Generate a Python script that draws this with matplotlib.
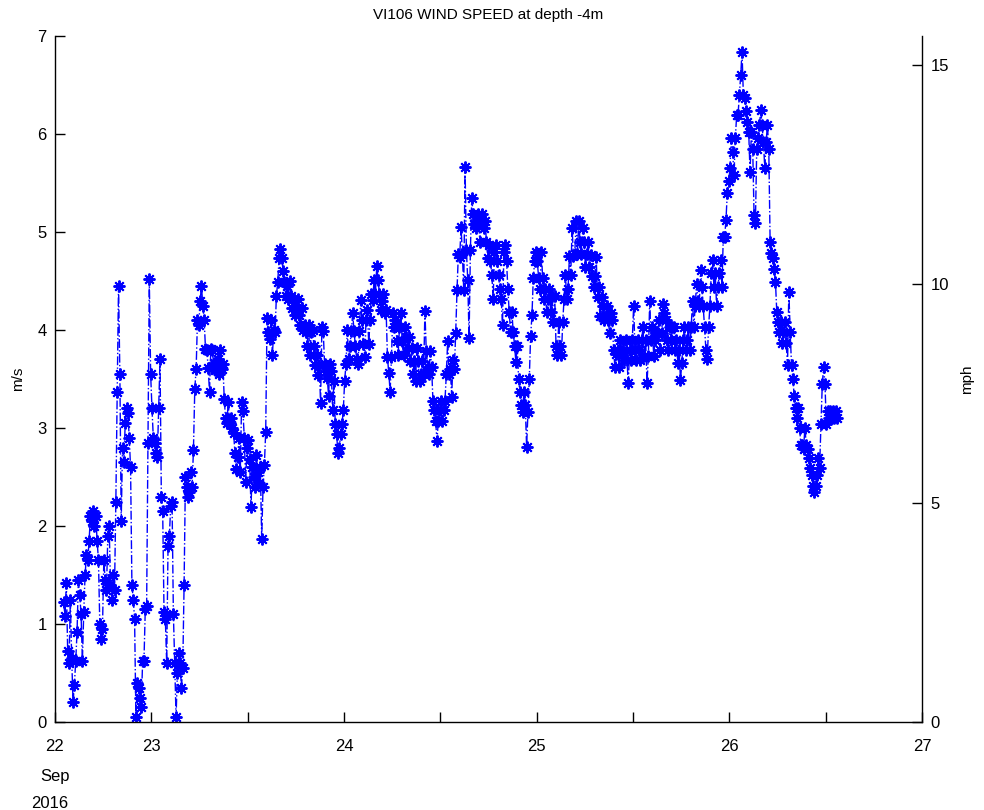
import numpy as np
import matplotlib
matplotlib.use("Agg")
import matplotlib.pyplot as plt

plt.rcParams['font.family'] = ['Liberation Sans', 'DejaVu Sans']

title = "VI106 WIND SPEED at depth -4m"

# sampling: start day (Sep 2016) and 10-minute step
t_start = 22.545
step_days = 1.0 / 144.0

speed_ms = [
    1.22, 1.08, 1.42, 0.72, 0.60, 1.25, 0.65, 0.20, 0.38, 0.62, 0.92, 1.45,
    1.30, 1.10, 0.62, 1.12, 1.50, 1.70, 1.65, 1.85, 2.10, 2.05, 2.15, 2.00,
    2.10, 1.85, 1.65, 1.00, 0.85, 0.95, 1.65, 1.45, 1.35, 1.90, 2.00, 1.40,
    1.25, 1.50, 1.35, 2.25, 3.37, 4.45, 3.55, 2.05, 2.80, 2.65, 3.05, 3.20,
    3.15, 2.90, 2.60, 1.40, 1.25, 1.05, 0.05, 0.40, 0.35, 0.25, 0.15, 0.62,
    0.62, 1.15, 1.18, 2.85, 4.52, 3.55, 3.20, 2.90, 2.85, 2.75, 2.70, 3.20,
    3.70, 2.30, 2.15, 1.12, 1.05, 0.60, 1.80, 1.90, 2.20, 2.25, 1.10, 0.60,
    0.05, 0.50, 0.70, 0.60, 0.35, 0.55, 1.40, 2.50, 2.40, 2.30, 2.35, 2.55,
    2.40, 2.78, 3.40, 3.60, 4.10, 4.05, 4.30, 4.45, 4.25, 4.10, 3.81, 3.80,
    3.61, 3.37, 3.81, 3.80, 3.66, 3.59, 3.62, 3.70, 3.55, 3.80, 3.60, 3.65,
    3.30, 3.10, 3.05, 3.27, 3.05, 3.10, 3.00, 2.95, 2.75, 2.58, 2.70, 2.90,
    2.55, 3.27, 3.17, 2.90, 2.45, 2.80, 2.88, 2.68, 2.19, 2.60, 2.50, 2.40,
    2.72, 2.55, 2.44, 2.60, 1.87, 2.40, 2.62, 2.96, 4.12, 3.98, 3.91, 4.10,
    3.74, 4.00, 3.98, 4.35, 4.49, 4.73, 4.83, 4.73, 4.60, 4.49, 4.35, 4.45,
    4.32, 4.50, 4.35, 4.22, 4.32, 4.15, 4.22, 4.32, 4.15, 4.05, 4.22, 4.00,
    4.05, 3.98, 3.84, 4.05, 3.74, 3.98, 4.00, 3.84, 3.64, 3.74, 3.54, 3.64,
    3.26, 4.03, 3.99, 3.65, 3.58, 3.51, 3.33, 3.65, 3.58, 3.18, 3.48, 3.04,
    2.94, 2.74, 2.80, 2.94, 3.04, 3.18, 3.48, 3.65, 4.00, 3.70, 3.84, 3.99,
    4.17, 3.99, 3.84, 3.70, 3.65, 3.99, 4.31, 4.10, 3.86, 3.72, 4.10, 4.20,
    3.86, 4.10, 4.37, 4.31, 4.51, 4.37, 4.65, 4.51, 4.37, 4.20, 4.30, 4.37,
    4.17, 4.20, 3.72, 3.56, 3.37, 3.72, 4.17, 4.03, 4.10, 3.89, 3.75, 4.03,
    4.17, 3.89, 3.75, 4.03, 3.93, 3.82, 3.93, 3.68, 3.82, 3.55, 3.68, 3.48,
    3.82, 3.68, 3.48, 3.55, 3.68, 3.55, 4.19, 3.79, 3.62, 3.55, 3.79, 3.62,
    3.28, 3.18, 3.07, 2.87, 3.07, 3.18, 3.28, 3.07, 3.18, 3.28, 3.55, 3.89,
    3.55, 3.60, 3.32, 3.69, 3.60, 3.97, 4.41, 4.78, 4.75, 5.05, 4.78, 4.41,
    5.66, 4.82, 4.51, 3.92, 4.82, 5.35, 5.18, 5.08, 5.04, 5.11, 5.18, 4.90,
    5.08, 5.18, 5.04, 5.11, 4.90, 4.73, 4.87, 4.70, 4.56, 4.32, 4.80, 4.87,
    4.70, 4.56, 4.42, 4.32, 4.05, 4.80, 4.87, 4.70, 4.42, 4.18, 3.98, 4.18,
    3.98, 3.84, 3.67, 3.84, 3.50, 3.37, 3.23, 3.16, 3.37, 3.23, 2.81, 3.16,
    3.50, 3.94, 4.15, 4.53, 4.70, 4.80, 4.70, 4.53, 4.42, 4.80, 4.53, 4.32,
    4.42, 4.18, 4.32, 4.42, 4.18, 4.35, 4.08, 4.35, 3.84, 3.74, 4.08, 3.84,
    3.74, 4.08, 4.32, 4.56, 4.32, 4.42, 4.76, 4.56, 5.04, 4.76, 4.78, 5.11,
    4.78, 5.11, 4.90, 4.78, 5.04, 4.90, 4.64, 4.78, 4.90, 4.64, 4.77, 4.55,
    4.44, 4.55, 4.75, 4.34, 4.44, 4.14, 4.34, 4.24, 4.10, 4.14, 4.24, 4.10,
    3.97, 4.17, 4.10, 3.80, 3.62, 3.76, 3.80, 3.62, 3.90, 3.76, 3.80, 3.69,
    3.90, 3.69, 3.46, 3.80, 3.69, 3.90, 4.25, 3.80, 3.69, 3.90, 3.80, 3.69,
    3.90, 4.03, 3.73, 3.90, 3.46, 3.73, 4.30, 3.90, 4.03, 3.73, 3.90, 3.97,
    3.97, 4.10, 3.80, 3.97, 4.27, 4.17, 4.10, 3.90, 3.80, 4.03, 3.90, 4.03,
    4.03, 3.80, 3.90, 3.66, 3.80, 3.49, 3.66, 3.90, 4.03, 3.80, 3.90, 4.03,
    3.80, 4.03, 4.30, 4.03, 4.24, 4.47, 4.30, 4.24, 4.61, 4.44, 4.24, 4.03,
    3.80, 3.70, 4.03, 4.24, 4.58, 4.71, 4.44, 4.58, 4.24, 4.44, 4.58, 4.71,
    4.44, 4.95, 4.95, 5.12, 5.40, 5.52, 5.65, 5.96, 5.82, 5.58, 5.96, 6.19,
    6.19, 6.40, 6.60, 6.84, 6.40, 6.37, 6.23, 6.12, 6.02, 5.61, 6.02, 5.85,
    5.17, 5.09, 5.85, 5.96, 6.09, 6.24, 6.09, 5.92, 5.65, 5.92, 6.09, 5.85,
    4.90, 4.79, 4.73, 4.62, 4.49, 4.18, 4.08, 3.98, 4.08, 3.87, 3.98, 4.08,
    3.87, 3.64, 4.39, 3.98, 3.64, 3.50, 3.33, 3.20, 3.10, 3.20, 3.00, 2.83,
    2.83, 2.79, 3.00, 2.83, 2.79, 2.69, 2.59, 2.52, 2.41, 2.35, 2.41, 2.52,
    2.69, 2.59, 3.04, 3.45, 3.62, 3.45, 3.04, 3.17, 3.10, 3.17, 3.10, 3.17,
    3.10, 3.17, 3.10,
]

x_ticks = [22.5, 23.0, 23.5, 24.0, 24.5, 25.0, 25.5, 26.0, 26.5, 27.0]
x_tick_labels = ['22', '23', '', '24', '', '25', '', '26', '', '27']
y_ticks_ms = [0, 1, 2, 3, 4, 5, 6, 7]
y_ticks_mph = [0, 5, 10, 15]
MS_TO_MPH = 2.23694

days = t_start + step_days * np.arange(len(speed_ms))

fig = plt.figure(figsize=(9.84, 8.10), dpi=100)
ax = fig.add_axes([55/984, 1 - 722/810, (922-55)/984, (722-36)/810])

blue = (0, 0, 1)
ax.plot(days, speed_ms, linestyle='-.', color=blue, linewidth=1.0,
        marker=(8, 2, 0), markersize=8.5, markeredgewidth=1.4,
        markeredgecolor=blue, markerfacecolor=blue)

ax.set_xlim(22.5, 27.0)
ax.set_ylim(0, 7)
ax.set_xticks(x_ticks)
ax.set_xticklabels(x_tick_labels)
ax.set_yticks(y_ticks_ms)
ax.tick_params(direction='in', length=7, width=1, labelsize=12, colors='black')
ax.tick_params(axis='x', pad=12)
ax.tick_params(axis='y', pad=6)
ax.spines['top'].set_visible(False)
ax.spines['right'].set_visible(False)
for s in ('left', 'bottom'):
    ax.spines[s].set_linewidth(1.0)
ax.set_ylabel('m/s', fontsize=11, labelpad=9)

ax2 = ax.twinx()
ax2.set_ylim(0, 7 * MS_TO_MPH)
ax2.set_yticks(y_ticks_mph)
ax2.tick_params(direction='in', length=7, width=1, labelsize=12, pad=6)
ax2.spines['top'].set_visible(False)
ax2.spines['left'].set_visible(False)
ax2.spines['bottom'].set_visible(False)
ax2.spines['right'].set_linewidth(1.0)
ax2.set_ylabel('mph', fontsize=11, labelpad=8)

fig.text(488/984, 1 - 15/810, title, ha='center', va='center', fontsize=11)
fig.text(55/984, 1 - 776/810, 'Sep', ha='center', va='center', fontsize=12)
fig.text(50/984, 1 - 804/810, '2016', ha='center', va='center', fontsize=12)

fig.savefig('out.png', dpi=100)
